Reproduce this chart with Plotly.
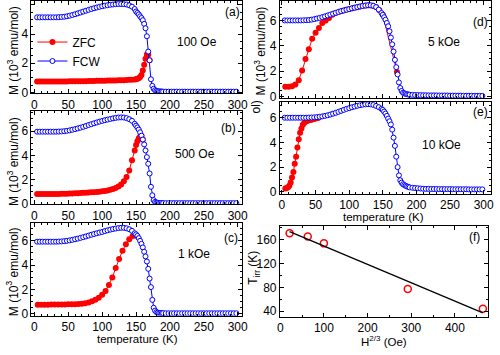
import numpy as np
import plotly.graph_objects as go

# ---------------- data ----------------
T = [4, 8, 12, 16, 20, 24, 28, 32, 36, 40, 44, 48, 52, 56, 60, 64, 68, 72, 76, 80,
     84, 88, 92, 96, 100, 104, 108, 112, 116, 120, 124, 128, 132, 136, 140, 144, 148,
     150, 152, 154, 156, 158, 160, 162, 164, 166, 168, 170, 172, 174, 176, 178, 180,
     182, 184, 186, 188, 190,
     194, 198, 202, 206, 210, 214, 218, 222, 226, 230, 234, 238, 242, 246, 250, 254,
     258, 262, 266, 270, 274, 278, 282, 286, 290, 294, 298]

fcw_a = [5.15, 5.15, 5.15, 5.15, 5.15, 5.15, 5.15, 5.15, 5.16, 5.17, 5.19, 5.22, 5.26, 5.31,
         5.36, 5.42, 5.48, 5.54, 5.6, 5.66, 5.72, 5.77, 5.82, 5.87, 5.91, 5.95, 5.98, 6.01,
         6.03, 6.05, 6.06, 6.06, 6.05, 6.03, 5.97, 5.88, 5.72,
         5.55, 5.45, 5.35, 5.22, 5.1, 4.95, 4.7, 4.4, 3.85, 2.8, 2.2, 0.9, 0.45, 0.25, 0.15,
         0.1, 0.08, 0.07, 0.06, 0.06, 0.05,
         0.05, 0.05, 0.05, 0.05, 0.05, 0.05, 0.05, 0.05, 0.05, 0.05, 0.05, 0.05, 0.05, 0.05,
         0.05, 0.05, 0.05, 0.05, 0.05, 0.05, 0.05, 0.05, 0.05, 0.05, 0.05, 0.05, 0.05]
zfc_a = [0.74, 0.74, 0.74, 0.74, 0.74, 0.74, 0.74, 0.74, 0.75, 0.75, 0.75, 0.75, 0.76, 0.76,
         0.76, 0.76, 0.77, 0.77, 0.77, 0.78, 0.78, 0.78, 0.79, 0.79, 0.8, 0.8, 0.81, 0.81,
         0.82, 0.82, 0.83, 0.83, 0.84, 0.85, 0.86, 0.87, 0.88,
         0.9, 0.93, 0.97, 1.05, 1.2, 1.5, 1.9, 2.3, 2.6, 2.6, 2.2]

fcw_b = [5.95, 5.95, 5.95, 5.95, 5.95, 5.95, 5.95, 5.95, 5.96, 5.97, 5.99, 6.02, 6.06, 6.11,
         6.16, 6.22, 6.28, 6.35, 6.42, 6.5, 6.57, 6.64, 6.71, 6.78, 6.84, 6.9, 6.95, 7.0,
         7.05, 7.09, 7.12, 7.13, 7.12, 7.07, 6.98, 6.85, 6.6,
         6.45, 6.3, 6.12, 5.9, 5.62, 5.3, 4.9, 4.4, 3.85, 3.3, 2.5, 1.4, 0.7, 0.3, 0.15,
         0.1, 0.08, 0.07, 0.06, 0.06, 0.05,
         0.05, 0.05, 0.05, 0.05, 0.05, 0.05, 0.05, 0.05, 0.05, 0.05, 0.05, 0.05, 0.05, 0.05,
         0.05, 0.05, 0.05, 0.05, 0.05, 0.05, 0.05, 0.05, 0.05, 0.05, 0.05, 0.05, 0.05]
zfc_b = [0.8, 0.8, 0.8, 0.8, 0.8, 0.8, 0.81, 0.81, 0.81, 0.82, 0.82, 0.83, 0.84, 0.85,
         0.86, 0.87, 0.88, 0.9, 0.91, 0.93, 0.94, 0.96, 0.98, 1.0, 1.03, 1.06, 1.1, 1.15,
         1.22, 1.3, 1.42, 1.6, 1.85, 2.2, 2.75, 3.6, 4.4,
         4.85, 5.15, 5.4, 5.55, 5.6, 5.3]

fcw_c = [5.93, 5.93, 5.93, 5.93, 5.93, 5.93, 5.93, 5.93, 5.94, 5.95, 5.97, 6.0, 6.04, 6.08,
         6.13, 6.18, 6.24, 6.3, 6.36, 6.43, 6.5, 6.56, 6.62, 6.68, 6.73, 6.8, 6.86, 6.92,
         6.97, 7.01, 7.05, 7.07, 7.07, 7.03, 6.95, 6.82, 6.62,
         6.53, 6.4, 6.22, 6.0, 5.75, 5.46, 5.1, 4.72, 4.3, 3.7, 2.9, 2.2, 1.15, 0.5, 0.27,
         0.15, 0.1, 0.08, 0.07, 0.06, 0.06,
         0.05, 0.05, 0.05, 0.05, 0.05, 0.05, 0.05, 0.05, 0.05, 0.05, 0.05, 0.05, 0.05, 0.05,
         0.05, 0.05, 0.05, 0.05, 0.05, 0.05, 0.05, 0.05, 0.05, 0.05, 0.05, 0.05, 0.05]
T_zfc_c = [5, 10, 15, 20, 25, 30, 35, 40, 45, 50, 55, 60, 65, 70, 75, 80, 85, 90, 95, 100,
           105, 110, 115, 120, 125, 130, 135, 140, 145, 150]
zfc_c = [0.75, 0.75, 0.75, 0.75, 0.76, 0.76, 0.76, 0.77, 0.77, 0.78, 0.79, 0.8, 0.81, 0.83,
         0.88, 0.94, 1.04, 1.16, 1.33, 1.56, 1.88, 2.37, 2.98, 3.76, 4.5, 5.19, 5.72, 6.13,
         6.4, 6.42]

fcw_d = [6.0, 6.0, 6.0, 6.0, 6.0, 6.0, 6.0, 6.01, 6.02, 6.03, 6.06, 6.1, 6.15, 6.2,
         6.26, 6.32, 6.39, 6.46, 6.53, 6.6, 6.67, 6.73, 6.78, 6.84, 6.89, 6.95, 7.0, 7.05,
         7.1, 7.14, 7.17, 7.19, 7.19, 7.15, 7.05, 6.85, 6.58,
         6.44, 6.25, 6.05, 5.8, 5.54, 5.15, 4.65, 4.12, 3.55, 2.9, 2.32, 1.75, 1.12, 0.68,
         0.45, 0.31, 0.26, 0.22, 0.19, 0.17, 0.15,
         0.14, 0.13, 0.12, 0.12, 0.11, 0.11, 0.1, 0.1, 0.1, 0.1, 0.09, 0.09, 0.09, 0.09,
         0.08, 0.08, 0.08, 0.08, 0.08, 0.07, 0.07, 0.07, 0.07, 0.06, 0.06, 0.06, 0.06]
T_zfc_d = [5, 10, 15, 20, 25, 30, 35, 40, 45, 50, 55, 60, 65, 70, 75, 80, 85, 90, 95, 100,
           105, 110, 115, 120, 125, 130, 135, 140, 145, 150, 171]
zfc_d = [0.77, 0.77, 0.82, 0.95, 1.29, 2.06, 2.96, 3.74, 4.56, 5.02, 5.41, 5.8, 6.0, 6.2,
         6.45, 6.58, 6.68, 6.76, 6.83, 6.89, 6.96, 7.02, 7.08, 7.13, 7.17, 7.19, 7.16, 7.05,
         6.8, 6.44, 1.95]

fcw_e = [6.02, 6.02, 6.02, 6.02, 6.02, 6.02, 6.02, 6.02, 6.02, 6.03, 6.04, 6.05, 6.07, 6.1,
         6.13, 6.17, 6.22, 6.28, 6.35, 6.42, 6.5, 6.58, 6.66, 6.74, 6.8, 6.87, 6.93, 6.99,
         7.04, 7.08, 7.11, 7.12, 7.11, 7.06, 6.98, 6.88, 6.74,
         6.66, 6.52, 6.36, 6.17, 5.95, 5.73, 5.47, 5.05, 4.4, 3.73, 2.85, 2.0, 1.33, 0.93,
         0.74, 0.61, 0.54, 0.48, 0.43, 0.39, 0.35,
         0.32, 0.3, 0.28, 0.26, 0.24, 0.23, 0.23, 0.22, 0.22, 0.22, 0.21, 0.21, 0.21, 0.21,
         0.21, 0.2, 0.2, 0.2, 0.2, 0.2, 0.2, 0.19, 0.19, 0.19, 0.19, 0.19, 0.19]
T_zfc_e = [5, 7, 9, 11, 13, 15, 17, 19, 21, 23, 25, 27, 29, 31, 33, 35, 37, 39, 41, 43,
           45, 47, 49, 51, 53, 55]
zfc_e = [0.27, 0.3, 0.36, 0.48, 0.75, 1.15, 1.6, 2.27, 2.85, 3.6, 4.27, 4.8, 5.15, 5.45,
         5.6, 5.7, 5.76, 5.8, 5.83, 5.86, 5.88, 5.91, 5.94, 5.97, 6.0, 6.03]

H23 = [21.5, 63, 100, 292, 464]
Tirr = [171, 165.5, 154, 77.5, 44]

fields = ["100 Oe", "500 Oe", "1 kOe", "5 kOe", "10 kOe"]
letters = ["(a)", "(b)", "(c)", "(d)", "(e)", "(f)"]

# ---------------- figure ----------------
RED = "#FF0000"
BLUE = "#0000FF"
FONT = "Liberation Sans, Arial, sans-serif"

fig = go.Figure()

panels = [
    ("x", "y", T[:len(zfc_a)], zfc_a, fcw_a),
    ("x2", "y2", T[:len(zfc_b)], zfc_b, fcw_b),
    ("x3", "y3", T_zfc_c, zfc_c, fcw_c),
    ("x4", "y4", T_zfc_d, zfc_d, fcw_d),
    ("x5", "y5", T_zfc_e, zfc_e, fcw_e),
]
for i, (xa, ya, tz, z, f) in enumerate(panels):
    fig.add_trace(go.Scatter(
        x=tz, y=z, xaxis=xa, yaxis=ya, mode="lines+markers", name="ZFC",
        showlegend=(i == 0), line=dict(color=RED, width=1),
        marker=dict(symbol="circle", size=6, color=RED, line=dict(width=0))))
    fig.add_trace(go.Scatter(
        x=T, y=f, xaxis=xa, yaxis=ya, mode="lines+markers", name="FCW",
        showlegend=(i == 0), line=dict(color=BLUE, width=1),
        marker=dict(symbol="circle", size=5, color="white", line=dict(color=BLUE, width=1))))

# panel f
fig.add_trace(go.Scatter(x=H23, y=Tirr, xaxis="x6", yaxis="y6", mode="markers",
                         showlegend=False,
                         marker=dict(symbol="circle-open", size=7, color=RED,
                                     line=dict(color=RED, width=1.5))))
coef = np.polyfit(H23, Tirr, 1)
xfit = [min(H23), max(H23)]
yfit = list(np.polyval(coef, xfit))
fig.add_trace(go.Scatter(x=xfit, y=yfit, xaxis="x6", yaxis="y6", mode="lines",
                         showlegend=False, line=dict(color="black", width=1.3)))

H = 355.0
W = 500.0


def py(top, bottom):
    return [1 - bottom / H, 1 - top / H]


def axis(domain, rng, dtick, minor, showlabels=True, anchor=None):
    d = dict(domain=domain, range=rng, dtick=dtick, tick0=0,
             showline=True, linecolor="black", linewidth=1, mirror="allticks",
             ticks="inside", ticklen=4, tickwidth=1, tickcolor="black",
             showgrid=False, zeroline=False, showticklabels=showlabels,
             tickfont=dict(size=12, color="black", family=FONT),
             minor=dict(ticks="inside", ticklen=2, tickcolor="black", dtick=minor,
                        showgrid=False))
    if anchor:
        d["anchor"] = anchor
    return d


LX = [29 / W, 243 / W]
RX = [282 / W, 497 / W]
FX = [282 / W, 494 / W]

fig.update_layout(
    width=500, height=355, margin=dict(l=0, r=0, t=0, b=0),
    paper_bgcolor="white", plot_bgcolor="white",
    font=dict(family=FONT, size=12, color="black"),
    xaxis=axis(LX, [-4.3, 305.8], 50, 10, anchor="y"),
    yaxis=axis(py(1, 95), [-0.07, 6.27], 2, 0.5, anchor="x"),
    xaxis2=axis(LX, [-4.3, 305.8], 50, 10, anchor="y2"),
    yaxis2=axis(py(113, 208), [-0.06, 7.65], 2, 0.5, anchor="x2"),
    xaxis3=axis(LX, [-4.3, 305.8], 50, 10, anchor="y3"),
    yaxis3=axis(py(227, 321), [-0.14, 7.45], 2, 0.5, anchor="x3"),
    xaxis4=axis(RX, [-3, 311], 50, 10, showlabels=False, anchor="y4"),
    yaxis4=axis(py(1, 100), [-0.13, 7.53], 2, 0.5, anchor="x4"),
    xaxis5=axis(RX, [-3, 311], 50, 10, anchor="y5"),
    yaxis5=axis(py(104, 197), [-0.16, 7.28], 2, 0.5, anchor="x5"),
    xaxis6=axis(FX, [-0.7, 476], 100, 50, anchor="y6"),
    yaxis6=axis(py(230, 322), [31, 183], 40, 20, anchor="x6"),
    legend=dict(x=0.06, y=1 - 28 / H, xanchor="left", yanchor="top",
                bgcolor="rgba(0,0,0,0)", font=dict(size=12, family=FONT),
                itemwidth=30, tracegroupgap=0),
)

ann = []


def txt(x, y, s, angle=0, size=12):
    ann.append(dict(x=x / W, y=1 - y / H, xref="paper", yref="paper", text=s,
                    showarrow=False, textangle=angle, xanchor="center", yanchor="middle",
                    font=dict(size=size, color="black", family=FONT)))


# panel letters and fields
txt(234, 12, letters[0]); txt(198, 43, fields[0])
txt(230, 130, letters[1]); txt(196, 157, fields[1])
txt(232, 242, letters[2]); txt(195, 258, fields[2])
txt(486, 22, letters[3]); txt(449, 43, fields[3])
txt(486, 114, letters[4]); txt(447, 147, fields[4])
txt(480, 241, letters[5])

ylab = "M (10<sup>3</sup> emu/mol)"
txt(10, 51, ylab, -90)
txt(10, 164, ylab, -90)
txt(10, 276, ylab, -90)
txt(262, 52, ylab, -90)
txt(258, 109, "ol)", -90)
txt(256, 272, "T<sub>irr</sub> (K)", -90)

txt(137, 345, "temperature (K)", size=11.5)
txt(387, 221, "temperature (K)", size=11.5)
txt(388, 347, "H<sup>2/3</sup> (Oe)", size=11.5)

fig.update_layout(annotations=ann)
fig.write_html("out.html")
